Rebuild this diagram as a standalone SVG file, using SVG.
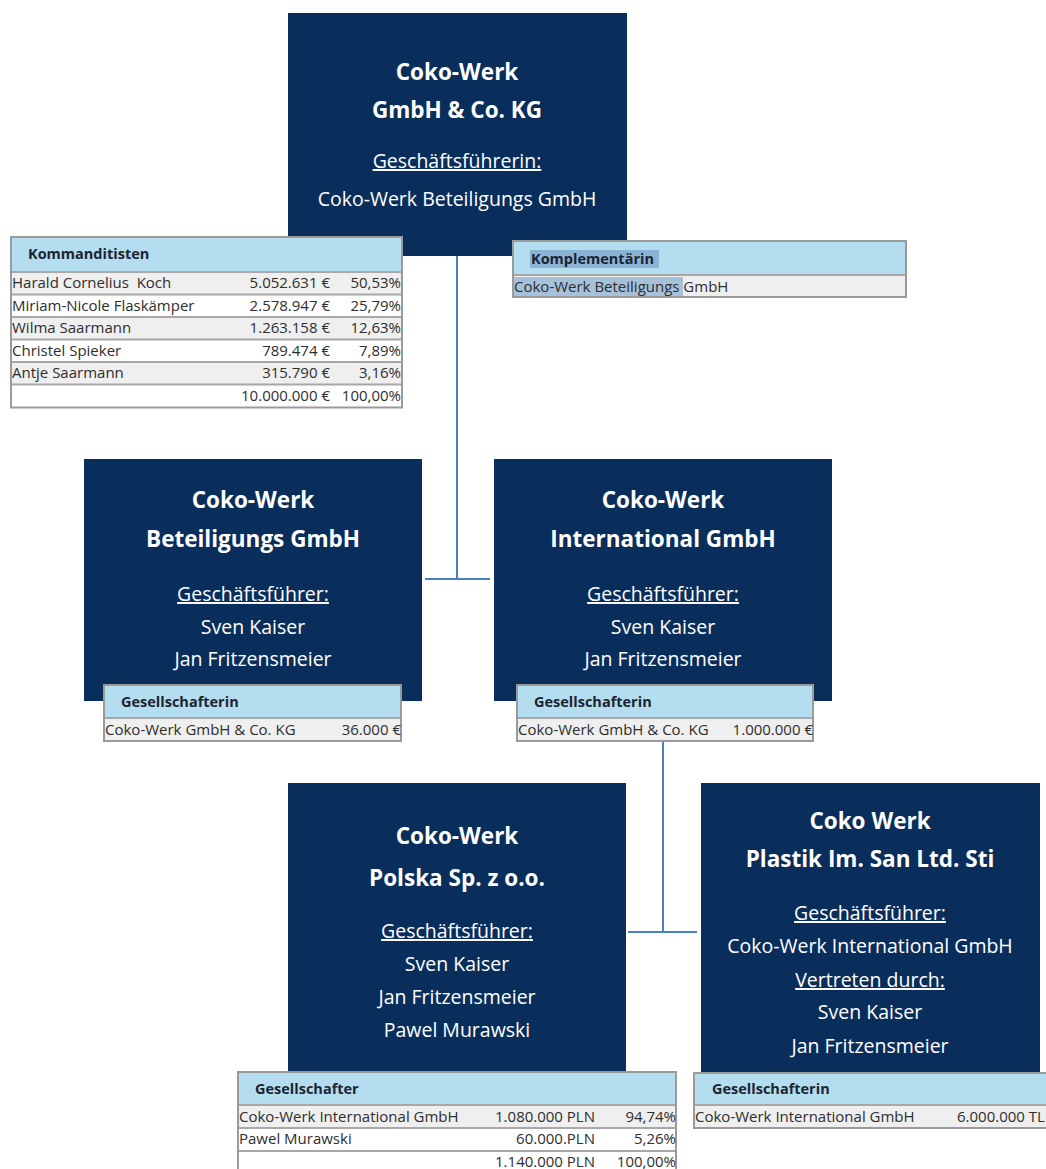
<svg xmlns="http://www.w3.org/2000/svg" width="1046" height="1169" viewBox="0 0 1046 1169">
<style>
.box{fill:#0a2e5c}
.t{font-family:"Open Sans","Noto Sans",sans-serif;fill:#fff;text-anchor:middle}
.tb{font-size:22.5px;font-weight:bold}
.tn{font-size:19.5px}
.u{text-decoration:underline}
.hd{fill:#b5ddf0}
.g{fill:#efefef}
.w{fill:#fff}
.frame{fill:none;stroke:#9a9a9a;stroke-width:2}
.sep{stroke:#a8a8a8;stroke-width:2}
.th{font-family:"Open Sans","Noto Sans",sans-serif;font-size:14.5px;font-weight:bold;fill:#1c2430}
.td{font-family:"Open Sans","Noto Sans",sans-serif;font-size:15px;fill:#2e2e2e;white-space:pre}
.r{text-anchor:end}
.con{stroke:#4a80bf;stroke-width:2;fill:none}
</style>
<g id="connectors">
<path class="con" d="M457,255 V579 M425,579 H490"/>
<path class="con" d="M663,742 V932 M628,932 H697"/>
</g>
<g id="node-kg">
<rect class="box" x="288" y="13" width="339" height="243"/>
<text class="t tb" x="457" y="80">Coko-Werk</text>
<text class="t tb" x="457" y="118">GmbH &amp; Co. KG</text>
<text class="t tn u" x="457" y="168">Geschäftsführerin:</text>
<text class="t tn" x="457" y="206">Coko-Werk Beteiligungs GmbH</text>
</g>
<g id="table-kommanditisten">
<rect class="hd" x="11" y="237" width="391" height="35"/>
<rect class="g" x="11" y="272" width="391" height="22.5"/>
<rect class="w" x="11" y="294.5" width="391" height="22.5"/>
<rect class="g" x="11" y="317" width="391" height="22.5"/>
<rect class="w" x="11" y="339.5" width="391" height="22.5"/>
<rect class="g" x="11" y="362" width="391" height="22.5"/>
<rect class="w" x="11" y="384.5" width="391" height="23"/>
<path class="sep" d="M11,272 H402 M11,294.5 H402 M11,317 H402 M11,339.5 H402 M11,362 H402 M11,384.5 H402"/>
<rect class="frame" x="11" y="237" width="391" height="170.5"/>
<text class="th" x="28" y="259">Kommanditisten</text>
<text class="td" x="12" y="288" xml:space="preserve">Harald Cornelius  Koch</text>
<text class="td r" x="330" y="288">5.052.631 €</text>
<text class="td r" x="401" y="288">50,53%</text>
<text class="td" x="12" y="311">Miriam-Nicole Flaskämper</text>
<text class="td r" x="330" y="311">2.578.947 €</text>
<text class="td r" x="401" y="311">25,79%</text>
<text class="td" x="12" y="333">Wilma Saarmann</text>
<text class="td r" x="330" y="333">1.263.158 €</text>
<text class="td r" x="401" y="333">12,63%</text>
<text class="td" x="12" y="356">Christel Spieker</text>
<text class="td r" x="330" y="356">789.474 €</text>
<text class="td r" x="401" y="356">7,89%</text>
<text class="td" x="12" y="378">Antje Saarmann</text>
<text class="td r" x="330" y="378">315.790 €</text>
<text class="td r" x="401" y="378">3,16%</text>
<text class="td r" x="330" y="401">10.000.000 €</text>
<text class="td r" x="401" y="401">100,00%</text>
</g>
<g id="table-komplementaerin">
<rect class="hd" x="513" y="241" width="393" height="34"/>
<rect class="g" x="513" y="275" width="393" height="22"/>
<rect x="530" y="250" width="129" height="18" fill="#8ab4d6"/>
<rect x="513" y="277" width="170" height="21" fill="#a6c1da"/>
<path class="sep" d="M513,275 H906"/>
<rect class="frame" x="513" y="241" width="393" height="56"/>
<text class="th" x="531" y="264">Komplementärin</text>
<text class="td" x="514" y="292">Coko-Werk Beteiligungs GmbH</text>
</g>
<g id="node-beteiligungs">
<rect class="box" x="84" y="459" width="338" height="242"/>
<text class="t tb" x="253" y="508">Coko-Werk</text>
<text class="t tb" x="253" y="547">Beteiligungs GmbH</text>
<text class="t tn u" x="253" y="601">Geschäftsführer:</text>
<text class="t tn" x="253" y="634">Sven Kaiser</text>
<text class="t tn" x="253" y="666">Jan Fritzensmeier</text>
</g>
<g id="table-beteiligungs">
<rect class="hd" x="104" y="685" width="297" height="33"/>
<rect class="g" x="104" y="718" width="297" height="23"/>
<path class="sep" d="M104,718 H401"/>
<rect class="frame" x="104" y="685" width="297" height="56"/>
<text class="th" x="121" y="707">Gesellschafterin</text>
<text class="td" x="105" y="735">Coko-Werk GmbH &amp; Co. KG</text>
<text class="td r" x="401" y="735">36.000 €</text>
</g>
<g id="node-international">
<rect class="box" x="494" y="459" width="338" height="242"/>
<text class="t tb" x="663" y="508">Coko-Werk</text>
<text class="t tb" x="663" y="547">International GmbH</text>
<text class="t tn u" x="663" y="601">Geschäftsführer:</text>
<text class="t tn" x="663" y="634">Sven Kaiser</text>
<text class="t tn" x="663" y="666">Jan Fritzensmeier</text>
</g>
<g id="table-international">
<rect class="hd" x="517" y="685" width="296" height="33"/>
<rect class="g" x="517" y="718" width="296" height="23"/>
<path class="sep" d="M517,718 H813"/>
<rect class="frame" x="517" y="685" width="296" height="56"/>
<text class="th" x="534" y="707">Gesellschafterin</text>
<text class="td" x="518" y="735">Coko-Werk GmbH &amp; Co. KG</text>
<text class="td r" x="813" y="735">1.000.000 €</text>
</g>
<g id="node-polska">
<rect class="box" x="288" y="783" width="338" height="292"/>
<text class="t tb" x="457" y="844">Coko-Werk</text>
<text class="t tb" x="457" y="886">Polska Sp. z o.o.</text>
<text class="t tn u" x="457" y="938">Geschäftsführer:</text>
<text class="t tn" x="457" y="971">Sven Kaiser</text>
<text class="t tn" x="457" y="1004">Jan Fritzensmeier</text>
<text class="t tn" x="457" y="1037">Pawel Murawski</text>
</g>
<g id="table-polska">
<rect class="hd" x="238" y="1072" width="438" height="33"/>
<rect class="g" x="238" y="1105" width="438" height="23"/>
<rect class="w" x="238" y="1128" width="438" height="23"/>
<rect class="w" x="238" y="1151" width="438" height="20"/>
<path class="sep" d="M238,1105 H676 M238,1128 H676 M238,1151 H676"/>
<path class="frame" d="M238,1172 V1072 H676 V1172"/>
<text class="th" x="255" y="1094">Gesellschafter</text>
<text class="td" x="239" y="1122">Coko-Werk International GmbH</text>
<text class="td r" x="595" y="1122">1.080.000 PLN</text>
<text class="td r" x="676" y="1122">94,74%</text>
<text class="td" x="239" y="1144">Pawel Murawski</text>
<text class="td r" x="595" y="1144">60.000.PLN</text>
<text class="td r" x="676" y="1144">5,26%</text>
<text class="td r" x="595" y="1167">1.140.000 PLN</text>
<text class="td r" x="676" y="1167">100,00%</text>
</g>
<g id="node-plastik">
<rect class="box" x="701" y="783" width="339" height="292"/>
<text class="t tb" x="870" y="829">Coko Werk</text>
<text class="t tb" x="870" y="867">Plastik Im. San Ltd. Sti</text>
<text class="t tn u" x="870" y="920">Geschäftsführer:</text>
<text class="t tn" x="870" y="953">Coko-Werk International GmbH</text>
<text class="t tn u" x="870" y="987">Vertreten durch:</text>
<text class="t tn" x="870" y="1019">Sven Kaiser</text>
<text class="t tn" x="870" y="1053">Jan Fritzensmeier</text>
</g>
<g id="table-plastik">
<rect class="hd" x="694" y="1073" width="354" height="32"/>
<rect class="g" x="694" y="1105" width="354" height="23"/>
<path class="sep" d="M694,1105 H1048"/>
<rect class="frame" x="694" y="1073" width="354" height="55"/>
<text class="th" x="712" y="1094">Gesellschafterin</text>
<text class="td" x="695" y="1122">Coko-Werk International GmbH</text>
<text class="td" x="957" y="1122">6.000.000 TL</text>
</g>
</svg>
